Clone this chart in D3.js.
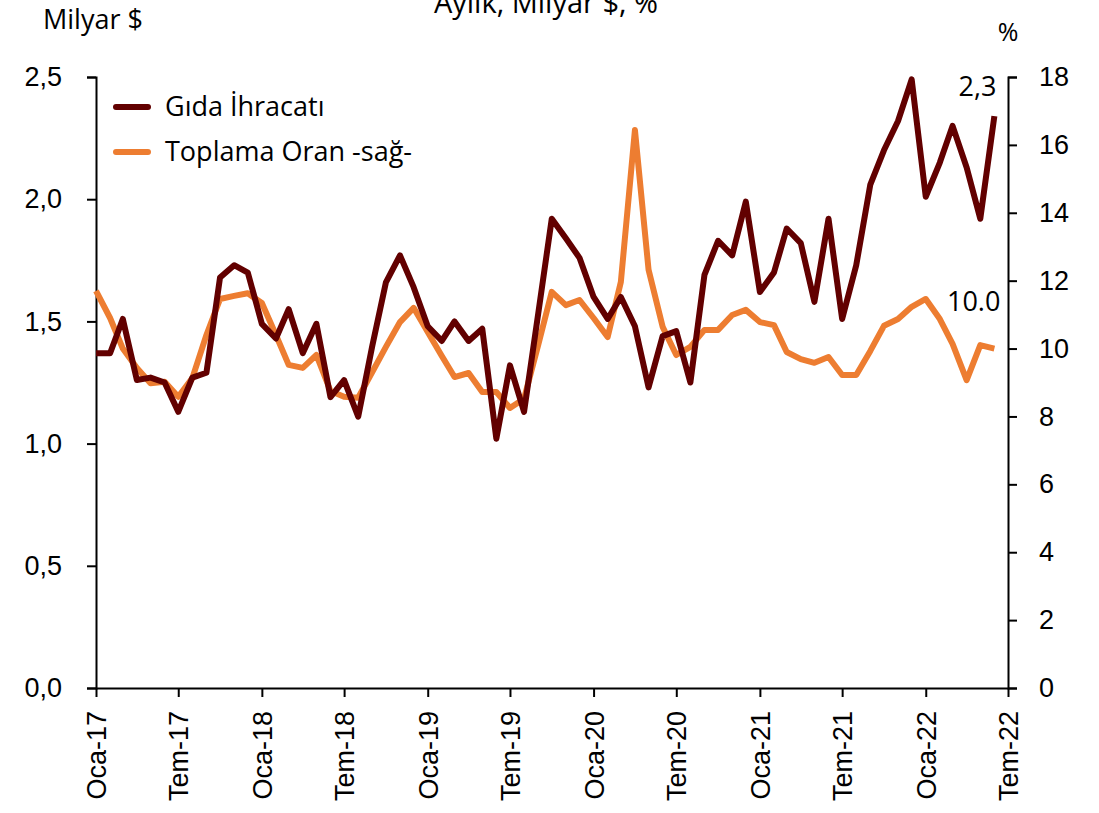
<!DOCTYPE html>
<html>
<head>
<meta charset="utf-8">
<script src="https://cdn.jsdelivr.net/npm/d3@7"></script>
<style>
  body { margin: 0; background: #fff; }
  svg { display: block; }
</style>
</head>
<body>
<svg id="chart"></svg>
<script>
// Aylık gıda ihracatı (milyar $) ve toplama oranı (%), Ocak 2017 - Haziran 2022
const months = d3.range(66).map(i => new Date(2017, i, 1));

const gidaIhracati = [
  1.37, 1.37, 1.51, 1.26, 1.27, 1.25, 1.13, 1.27, 1.29, 1.68, 1.73, 1.70,
  1.49, 1.43, 1.55, 1.37, 1.49, 1.19, 1.26, 1.11, 1.40, 1.66, 1.77, 1.64,
  1.48, 1.42, 1.50, 1.42, 1.47, 1.02, 1.32, 1.13, 1.53, 1.92, 1.84, 1.76,
  1.60, 1.51, 1.60, 1.48, 1.23, 1.44, 1.46, 1.25, 1.69, 1.83, 1.77, 1.99,
  1.62, 1.70, 1.88, 1.82, 1.58, 1.92, 1.51, 1.73, 2.06, 2.20, 2.32, 2.49,
  2.01, 2.15, 2.30, 2.13, 1.92, 2.34
];

const toplamaOrani = [
  11.70, 10.90, 10.00, 9.43, 8.98, 9.02, 8.58, 9.13, 10.40, 11.46, 11.55, 11.63,
  11.34, 10.40, 9.52, 9.43, 9.81, 8.75, 8.58, 8.55, 9.31, 10.05, 10.78, 11.20,
  10.49, 9.78, 9.16, 9.28, 8.72, 8.72, 8.25, 8.52, 10.10, 11.67, 11.28, 11.43,
  10.90, 10.34, 11.96, 16.44, 12.32, 10.64, 9.81, 10.05, 10.55, 10.55, 10.99, 11.14,
  10.78, 10.69, 9.90, 9.69, 9.58, 9.75, 9.22, 9.22, 9.93, 10.67, 10.87, 11.23,
  11.46, 10.87, 10.14, 9.07, 10.10, 10.00
];

const leftTicks = [0, 0.5, 1.0, 1.5, 2.0, 2.5];
const rightTicks = [0, 2, 4, 6, 8, 10, 12, 14, 16, 18];
const monthNames = ["Oca", "Şub", "Mar", "Nis", "May", "Haz", "Tem", "Ağu", "Eyl", "Eki", "Kas", "Ara"];
const xTicks = d3.range(0, 67, 6).map(i => new Date(2017, i, 1));

const seriesNames = ["Gıda İhracatı", "Toplama Oran -sağ-"];
const seriesColors = ["#620000", "#ED7D31"];

const width = 1099, height = 813;
const margin = { top: 77, right: 91, bottom: 125, left: 96 };
const textFont = "'Open Sans', 'Noto Sans', sans-serif";
const tickFont = "'Liberation Sans', Arial, sans-serif";

const svg = d3.select("#chart")
  .attr("width", width)
  .attr("height", height)
  .style("font-family", tickFont);

const x = d3.scaleTime()
  .domain([new Date(2017, 0, 1), new Date(2022, 6, 1)])
  .range([margin.left, width - margin.right]);

const yLeft = d3.scaleLinear()
  .domain([0, 2.5])
  .range([height - margin.bottom, margin.top]);

const yRight = d3.scaleLinear()
  .domain([0, 18])
  .range([height - margin.bottom, margin.top]);

const fmtComma = d => d3.format(".1f")(d).replace(".", ",");

// axes
const axisStyle = g => {
  g.attr("font-size", null).attr("font-family", null);
  g.select(".domain").attr("stroke", "#000").attr("stroke-width", 2);
  g.selectAll(".tick line").attr("stroke", "#000").attr("stroke-width", 2);
  g.selectAll(".tick text").attr("fill", "#000")
    .style("font-size", "27px")
    .style("font-family", tickFont);
};

svg.append("g")
  .attr("transform", `translate(${margin.left},0)`)
  .call(d3.axisLeft(yLeft).tickValues(leftTicks).tickFormat(fmtComma).tickSizeInner(9).tickSizeOuter(9))
  .call(axisStyle)
  .call(g => g.selectAll(".tick text").attr("x", -34));

svg.append("g")
  .attr("transform", `translate(${width - margin.right},0)`)
  .call(d3.axisRight(yRight).tickValues(rightTicks).tickFormat(d3.format("d")).tickSizeInner(9).tickSizeOuter(9))
  .call(axisStyle)
  .call(g => g.selectAll(".tick text").attr("x", 31));

svg.append("g")
  .attr("transform", `translate(0,${height - margin.bottom})`)
  .call(d3.axisBottom(x).tickValues(xTicks)
    .tickFormat(d => `${monthNames[d.getMonth()]}-${String(d.getFullYear()).slice(2)}`)
    .tickSizeInner(9).tickSizeOuter(0))
  .call(axisStyle)
  .call(g => g.selectAll(".tick text")
    .attr("transform", "rotate(-90)")
    .attr("text-anchor", "end")
    .attr("x", -23)
    .attr("y", 0)
    .attr("dy", "0.35em"));

// lines
const lineLeft = d3.line()
  .x((d, i) => x(months[i]))
  .y(d => yLeft(d));

const lineRight = d3.line()
  .x((d, i) => x(months[i]))
  .y(d => yRight(d));

svg.append("path")
  .datum(toplamaOrani)
  .attr("fill", "none")
  .attr("stroke", seriesColors[1])
  .attr("stroke-width", 6)
  .attr("stroke-linejoin", "round")
  .attr("d", lineRight);

svg.append("path")
  .datum(gidaIhracati)
  .attr("fill", "none")
  .attr("stroke", seriesColors[0])
  .attr("stroke-width", 6)
  .attr("stroke-linejoin", "round")
  .attr("d", lineLeft);

// end value labels
const lastI = months.length - 1;
svg.append("text")
  .attr("x", x(months[lastI]) + 2)
  .attr("y", 96)
  .attr("text-anchor", "end")
  .style("font-family", textFont)
  .style("font-size", "27px")
  .text(fmtComma(gidaIhracati[lastI]));

svg.append("text")
  .attr("x", x(months[lastI]) + 6)
  .attr("y", yRight(toplamaOrani[lastI]) - 38)
  .attr("text-anchor", "end")
  .style("font-family", textFont)
  .style("font-size", "27px")
  .text(d3.format(".1f")(toplamaOrani[lastI]));

// legend
const legend = svg.append("g").attr("transform", "translate(116,107)");
seriesNames.forEach((name, i) => {
  const row = legend.append("g").attr("transform", `translate(0,${i * 45})`);
  row.append("line")
    .attr("x1", 0).attr("x2", 32)
    .attr("stroke", seriesColors[i])
    .attr("stroke-width", 6)
    .attr("stroke-linecap", "round");
  row.append("text")
    .attr("x", 49)
    .attr("dy", "0.35em")
    .style("font-family", textFont)
    .style("font-size", "27px")
    .text(name);
});

// titles
svg.append("text")
  .attr("x", 43).attr("y", 29)
  .style("font-family", textFont)
  .style("font-size", "27px")
  .text("Milyar $");

svg.append("text")
  .attr("x", 1008).attr("y", 41)
  .attr("text-anchor", "middle")
  .style("font-family", textFont)
  .style("font-size", "25px")
  .text("%");

svg.append("text")
  .attr("x", 546).attr("y", 13)
  .attr("text-anchor", "middle")
  .style("font-family", textFont)
  .style("font-size", "29px")
  .text("Aylık, Milyar $, %");
</script>
</body>
</html>
